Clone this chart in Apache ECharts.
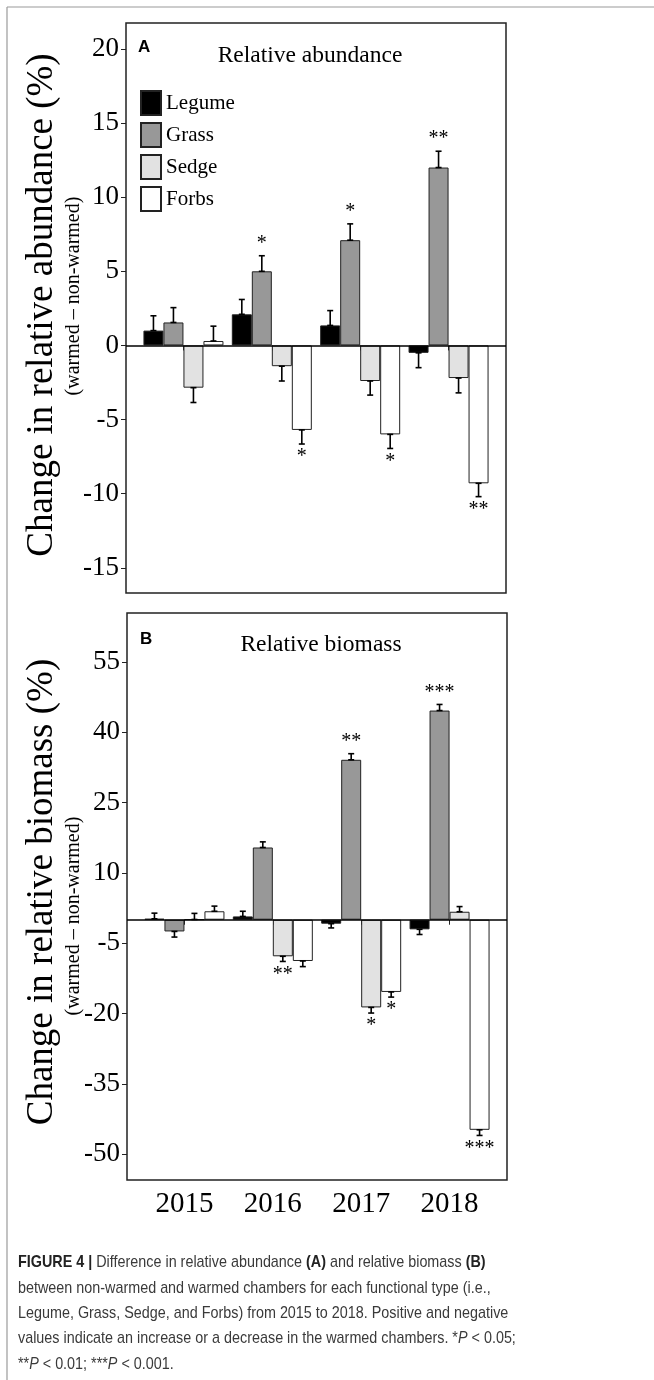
<!DOCTYPE html>
<html><head><meta charset="utf-8">
<script src="https://cdn.jsdelivr.net/npm/echarts@6/dist/echarts.min.js"></script>
<style>html,body{margin:0;padding:0;background:#fff}#c{width:654px;height:1380px}</style>
</head><body><div id="c"></div>
<script>
// ---------- data ----------
const years = ['2015', '2016', '2017', '2018'];
const yearValues = [2015, 2016, 2017, 2018];
const types = ['Legume', 'Grass', 'Sedge', 'Forbs'];

// Panel A: change in relative abundance (%)
const abundLegume = [1.0, 2.1, 1.35, -0.5];
const abundGrass  = [1.55, 5.0, 7.1, 12.0];
const abundSedge  = [-2.85, -1.4, -2.4, -2.2];
const abundForbs  = [0.3, -5.7, -6.0, -9.3];
const abundLegumeErr = [1.0, 1.0, 1.0, 1.0];
const abundGrassErr  = [1.0, 1.05, 1.1, 1.1];
const abundSedgeErr  = [1.0, 1.0, 0.95, 1.0];
const abundForbsErr  = [1.0, 0.95, 0.95, 0.9];
const abundLegumeSig = ['', '', '', ''];
const abundGrassSig  = ['', '*', '*', '**'];
const abundSedgeSig  = ['', '', '', ''];
const abundForbsSig  = ['', '*', '*', '**'];

// Panel B: change in relative biomass (%)
const bioLegume = [0.2, 0.7, -0.85, -2.05];
const bioGrass  = [-2.5, 15.4, 34.1, 44.6];
const bioSedge  = [0.05, -7.8, -18.7, 1.7];
const bioForbs  = [1.8, -8.8, -15.4, -44.8];
const bioLegumeErr = [1.2, 1.1, 0.9, 1.1];
const bioGrassErr  = [1.2, 1.2, 1.3, 1.3];
const bioSedgeErr  = [1.3, 1.1, 1.2, 1.1];
const bioForbsErr  = [1.1, 1.2, 1.1, 1.2];
const bioLegumeSig = ['', '', '', ''];
const bioGrassSig  = ['', '', '**', '***'];
const bioSedgeSig  = ['', '**', '*', ''];
const bioForbsSig  = ['', '', '*', '***'];

const yTicksA = [-15, -10, -5, 0, 5, 10, 15, 20];
const yTicksB = [-50, -35, -20, -5, 10, 25, 40, 55];

// ---------- styles ----------
const colors = ['#000000', '#989898', '#e2e2e2', '#ffffff'];
const SERIF = 'Liberation Serif, Times New Roman, serif';
const SANS = 'Liberation Sans, Arial, sans-serif';
const BAR_W = 20;

const panelA = { vals: [abundLegume, abundGrass, abundSedge, abundForbs],
  errs: [abundLegumeErr, abundGrassErr, abundSedgeErr, abundForbsErr],
  sigs: [abundLegumeSig, abundGrassSig, abundSedgeSig, abundForbsSig] };
const panelB = { vals: [bioLegume, bioGrass, bioSedge, bioForbs],
  errs: [bioLegumeErr, bioGrassErr, bioSedgeErr, bioForbsErr],
  sigs: [bioLegumeSig, bioGrassSig, bioSedgeSig, bioForbsSig] };

function barSeries(panel, idx) {
  return panel.vals.map((arr, k) => {
    const s = {
      name: types[k], type: 'bar', xAxisIndex: idx, yAxisIndex: idx,
      barWidth: BAR_W, barGap: '0%',
      itemStyle: { color: colors[k], borderColor: '#222', borderWidth: 1 },
      data: yearValues.map((x, i) => [x, arr[i]]),
      z: 2
    };
    if (k === 0) {
      s.markLine = { silent: true, symbol: 'none', label: { show: false },
        lineStyle: { color: '#000', width: 1.5, type: 'solid' },
        data: [{ yAxis: 0 }], z: 5 };
    }
    return s;
  });
}

function errSeries(panel, idx) {
  const recs = [];
  panel.vals.forEach((arr, k) => arr.forEach((v, i) => {
    recs.push({ x: yearValues[i], v: v, e: panel.errs[k][i], k: k, sig: panel.sigs[k][i] });
  }));
  return {
    type: 'custom', xAxisIndex: idx, yAxisIndex: idx, z: 4, silent: true,
    data: recs.map(r => [r.x, r.v, r.e, r.k]),
    renderItem: function (params, api) {
      const r = recs[params.dataIndex];
      const dir = r.v >= 0 ? 1 : -1;
      const p0 = api.coord([r.x, r.v]);
      const p1 = api.coord([r.x, r.v + dir * r.e]);
      const cx = p0[0] + (r.k - 1.5) * BAR_W;
      const ls = { stroke: '#000', lineWidth: 1.6 };
      const children = [
        { type: 'line', shape: { x1: cx, y1: p0[1], x2: cx, y2: p1[1] }, style: ls },
        { type: 'line', shape: { x1: cx - 3, y1: p1[1], x2: cx + 3, y2: p1[1] }, style: ls },
        { type: 'line', shape: { x1: cx - 3, y1: p0[1], x2: cx + 3, y2: p0[1] }, style: ls }
      ];
      if (r.sig) {
        children.push({ type: 'text', style: {
          text: r.sig, x: cx, y: p1[1] + (dir > 0 ? -12 : 13),
          align: 'center', verticalAlign: 'middle',
          fontFamily: SERIF, fontSize: 20, fill: '#000' } });
      }
      return { type: 'group', children: children };
    }
  };
}

const chart = echarts.init(document.getElementById('c'), null, { renderer: 'canvas' });

const yLabel = { fontFamily: SERIF, fontSize: 27, color: '#000', margin: 7 };
const tick = { show: true, length: 5, lineStyle: { color: '#222', width: 1 } };

const option = {
  animation: false,
  backgroundColor: '#fff',
  grid: [
    { left: 126, top: 23, width: 380, height: 570, show: true, borderColor: '#222', borderWidth: 1.5, backgroundColor: '#fff' },
    { left: 127, top: 613, width: 380, height: 567, show: true, borderColor: '#222', borderWidth: 1.5, backgroundColor: '#fff' }
  ],
  xAxis: [
    { type: 'value', gridIndex: 0, min: 2014.35, max: 2018.65, splitLine: { show: false },
      axisLine: { show: false },
      axisTick: Object.assign({ customValues: yearValues }, tick),
      axisLabel: { show: false, customValues: yearValues } },
    { type: 'value', gridIndex: 1, min: 2014.35, max: 2018.65, splitLine: { show: false },
      axisLine: { show: false },
      axisTick: Object.assign({ customValues: yearValues }, tick),
      axisLabel: { customValues: yearValues, formatter: v => years[yearValues.indexOf(v)] || '',
        fontFamily: SERIF, fontSize: 29, color: '#000', margin: 10 } }
  ],
  yAxis: [
    { type: 'value', gridIndex: 0, min: -16.7, max: 21.75, splitLine: { show: false },
      axisLine: { show: false },
      axisTick: Object.assign({ customValues: yTicksA }, tick),
      axisLabel: Object.assign({ customValues: yTicksA }, yLabel) },
    { type: 'value', gridIndex: 1, min: -55.5, max: 65.4, splitLine: { show: false },
      axisLine: { show: false },
      axisTick: Object.assign({ customValues: yTicksB }, tick),
      axisLabel: Object.assign({ customValues: yTicksB }, yLabel) }
  ],
  legend: {
    data: types, orient: 'vertical', left: 140, top: 90, padding: 0,
    itemWidth: 20, itemHeight: 24, itemGap: 6, icon: 'rect', selectedMode: false,
    textStyle: { fontFamily: SERIF, fontSize: 21, color: '#000' }
  },
  series: [].concat(barSeries(panelA, 0), [errSeries(panelA, 0)], barSeries(panelB, 1), [errSeries(panelB, 1)]),
  graphic: [
    // figure frame lines
    { type: 'line', shape: { x1: 7, y1: 7, x2: 654, y2: 7 }, style: { stroke: '#9a9a9a', lineWidth: 1.2 } },
    { type: 'line', shape: { x1: 7, y1: 7, x2: 7, y2: 1380 }, style: { stroke: '#9a9a9a', lineWidth: 1.2 } },
    // panel labels and titles
    { type: 'text', x: 138, y: 47, style: { text: 'A', fontFamily: SANS, fontWeight: 'bold', fontSize: 17, fill: '#000', align: 'left', verticalAlign: 'middle' } },
    { type: 'text', x: 310, y: 56, style: { text: 'Relative abundance', fontFamily: SERIF, fontSize: 23.5, fill: '#000', align: 'center', verticalAlign: 'middle' } },
    { type: 'text', x: 140, y: 639, style: { text: 'B', fontFamily: SANS, fontWeight: 'bold', fontSize: 17, fill: '#000', align: 'left', verticalAlign: 'middle' } },
    { type: 'text', x: 321, y: 645, style: { text: 'Relative biomass', fontFamily: SERIF, fontSize: 23.5, fill: '#000', align: 'center', verticalAlign: 'middle' } },
    // y-axis titles
    { type: 'text', x: 42, y: 305, rotation: Math.PI / 2, style: { text: 'Change in relative abundance (%)', fontFamily: SERIF, fontSize: 37, fill: '#000', align: 'center', verticalAlign: 'middle' } },
    { type: 'text', x: 74, y: 296, rotation: Math.PI / 2, style: { text: '(warmed \u2013 non-warmed)', fontFamily: SERIF, fontSize: 20, fill: '#000', align: 'center', verticalAlign: 'middle' } },
    { type: 'text', x: 42, y: 892, rotation: Math.PI / 2, style: { text: 'Change in relative biomass (%)', fontFamily: SERIF, fontSize: 37, fill: '#000', align: 'center', verticalAlign: 'middle' } },
    { type: 'text', x: 74, y: 916, rotation: Math.PI / 2, style: { text: '(warmed \u2013 non-warmed)', fontFamily: SERIF, fontSize: 20, fill: '#000', align: 'center', verticalAlign: 'middle' } },
    // caption (horizontally condensed like the original typeface)
    { type: 'text', x: 18, y: 1250, scaleX: 0.845, scaleY: 1, style: {
        text: '{b|FIGURE 4 |} Difference in relative abundance {b|(A)} and relative biomass {b|(B)}\n' +
              'between non-warmed and warmed chambers for each functional type (i.e.,\n' +
              'Legume, Grass, Sedge, and Forbs) from 2015 to 2018. Positive and negative\n' +
              'values indicate an increase or a decrease in the warmed chambers. *{i|P} < 0.05;\n' +
              '**{i|P} < 0.01; ***{i|P} < 0.001.',
        fontFamily: SANS, fontSize: 17, fill: '#3a3a3a', lineHeight: 25.3,
        rich: {
          b: { fontWeight: 'bold', fill: '#222', fontFamily: SANS, fontSize: 17, lineHeight: 25.3 },
          i: { fontStyle: 'italic', fill: '#3a3a3a', fontFamily: SANS, fontSize: 17, lineHeight: 25.3 }
        }
    } }
  ]
};
chart.setOption(option);
</script>
</body></html>
